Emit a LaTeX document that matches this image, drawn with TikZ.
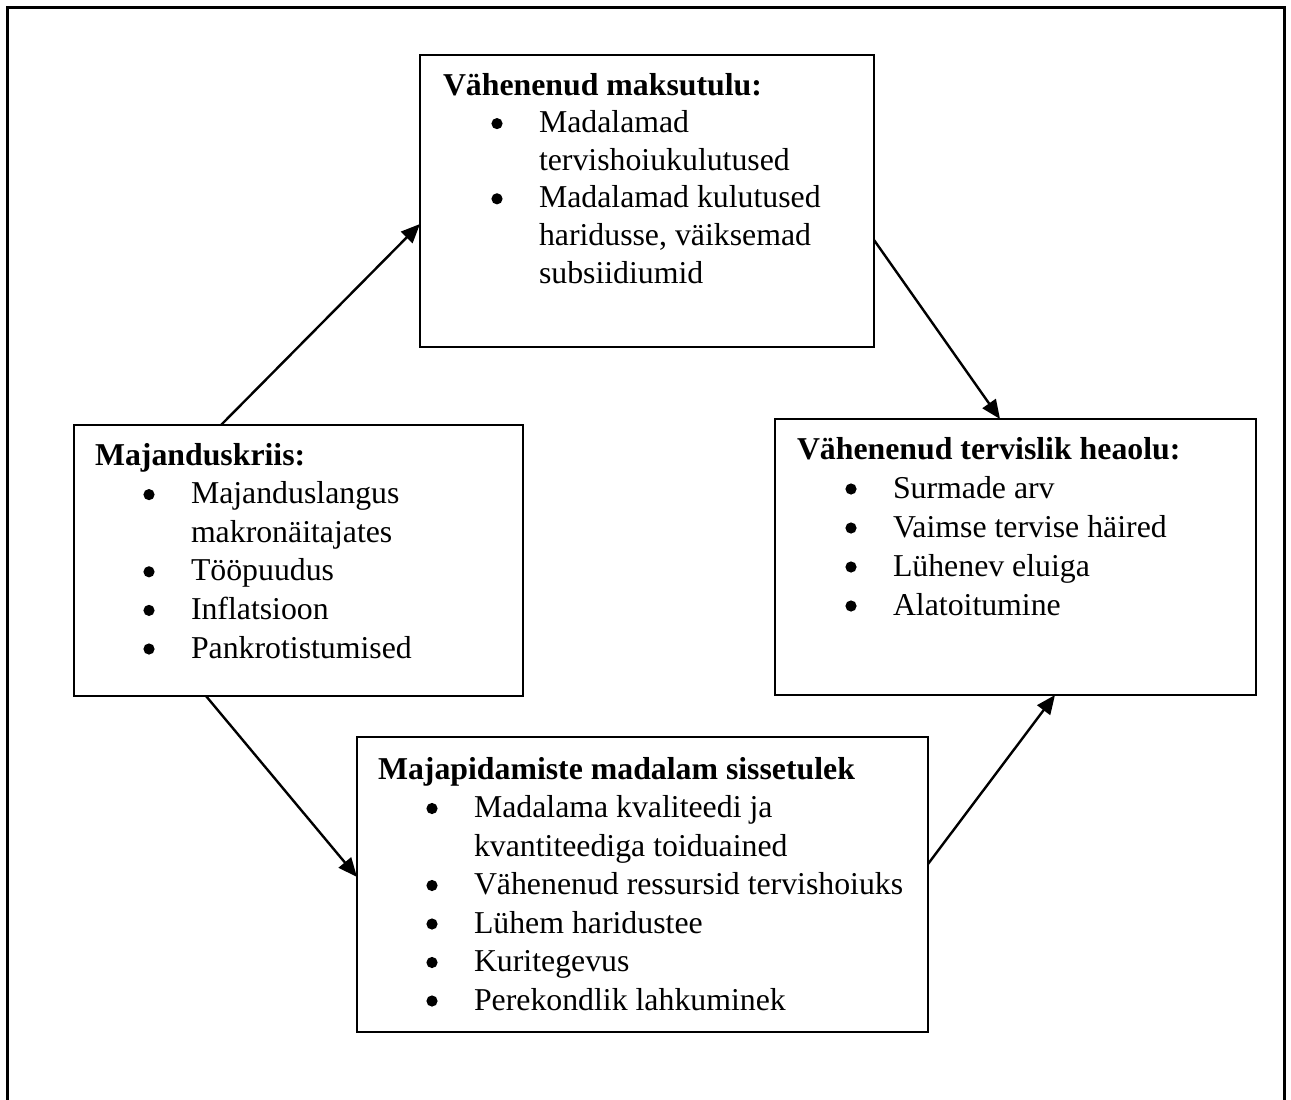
\documentclass[tikz,border=0pt]{standalone}
\usepackage{fontspec}
\setmainfont{Liberation Serif}
\usetikzlibrary{arrows.meta}
% one bullet line of a list, and the continuation of a wrapped item
\newcommand\bdot{\tikz[baseline=0pt]\fill (6pt,9pt) circle[radius=5.6pt];}
\newcommand\bitem{\hspace*{48.4pt}\makebox[47.6pt][l]{\bdot}}
\newcommand\bcont{\hspace*{96pt}}
\begin{document}
\begin{tikzpicture}[x=1pt,y=-1pt,
  box/.style={draw, line width=2.3pt, rectangle, inner sep=0pt, outer sep=0pt, anchor=north west},
  txt/.style={anchor=north west, inner sep=0pt, outer sep=0pt, align=left},
  flow/.style={line width=2.4pt, -{Triangle[length=19pt,width=16pt]}}]
\useasboundingbox (0,0) rectangle (1291,1100);
\clip (0,0) rectangle (1291,1100);
% outer frame
\draw[line width=3pt] (7.5,7.5) rectangle (1284.5,1130);

% the four boxes
\node[box, minimum width=454pt, minimum height=292pt] (T) at (420,55) {};
\node[box, minimum width=449pt, minimum height=271pt] (L) at (74,425) {};
\node[box, minimum width=481pt, minimum height=276pt] (R) at (775,419) {};
\node[box, minimum width=571pt, minimum height=295pt] (B) at (357,737) {};

% box texts
\node[txt, font=\fontsize{31.8pt}{37.6pt}\selectfont] (Ttext) at (443,70)
  {\rule{0pt}{25pt}\textbf{Vähenenud maksutulu:}\\
   \bitem Madalamad\\
   \bcont tervishoiukulutused\\
   \bitem Madalamad kulutused\\
   \bcont haridusse, väiksemad\\
   \bcont subsiidiumid};
\node[txt, font=\fontsize{31.8pt}{38.6pt}\selectfont] (Ltext) at (95,440)
  {\rule{0pt}{25pt}\textbf{Majanduskriis:}\\
   \bitem Majanduslangus\\
   \bcont makronäitajates\\
   \bitem Tööpuudus\\
   \bitem Inflatsioon\\
   \bitem Pankrotistumised};
\node[txt, font=\fontsize{31.8pt}{39pt}\selectfont] (Rtext) at (797,434)
  {\rule{0pt}{25pt}\textbf{Vähenenud tervislik heaolu:}\\
   \bitem Surmade arv\\
   \bitem Vaimse tervise häired\\
   \bitem Lühenev eluiga\\
   \bitem Alatoitumine};
\node[txt, font=\fontsize{31.8pt}{38.5pt}\selectfont] (Btext) at (378,754)
  {\rule{0pt}{25pt}\textbf{Majapidamiste madalam sissetulek}\\
   \bitem Madalama kvaliteedi ja\\
   \bcont kvantiteediga toiduained\\
   \bitem Vähenenud ressursid tervishoiuks\\
   \bitem Lühem haridustee\\
   \bitem Kuritegevus\\
   \bitem Perekondlik lahkuminek};

% connectors around the cycle
\draw[flow] ([xshift=147pt]L.north west) -- ([yshift=-169pt]T.north west);
\draw[flow] ([yshift=-185pt]T.north east) -- ([xshift=225pt]R.north west);
\draw[flow] ([xshift=132pt]L.south west) -- ([yshift=-140pt]B.north west);
\draw[flow] ([yshift=-127pt]B.north east) -- ([xshift=280pt]R.south west);
\end{tikzpicture}
\end{document}
